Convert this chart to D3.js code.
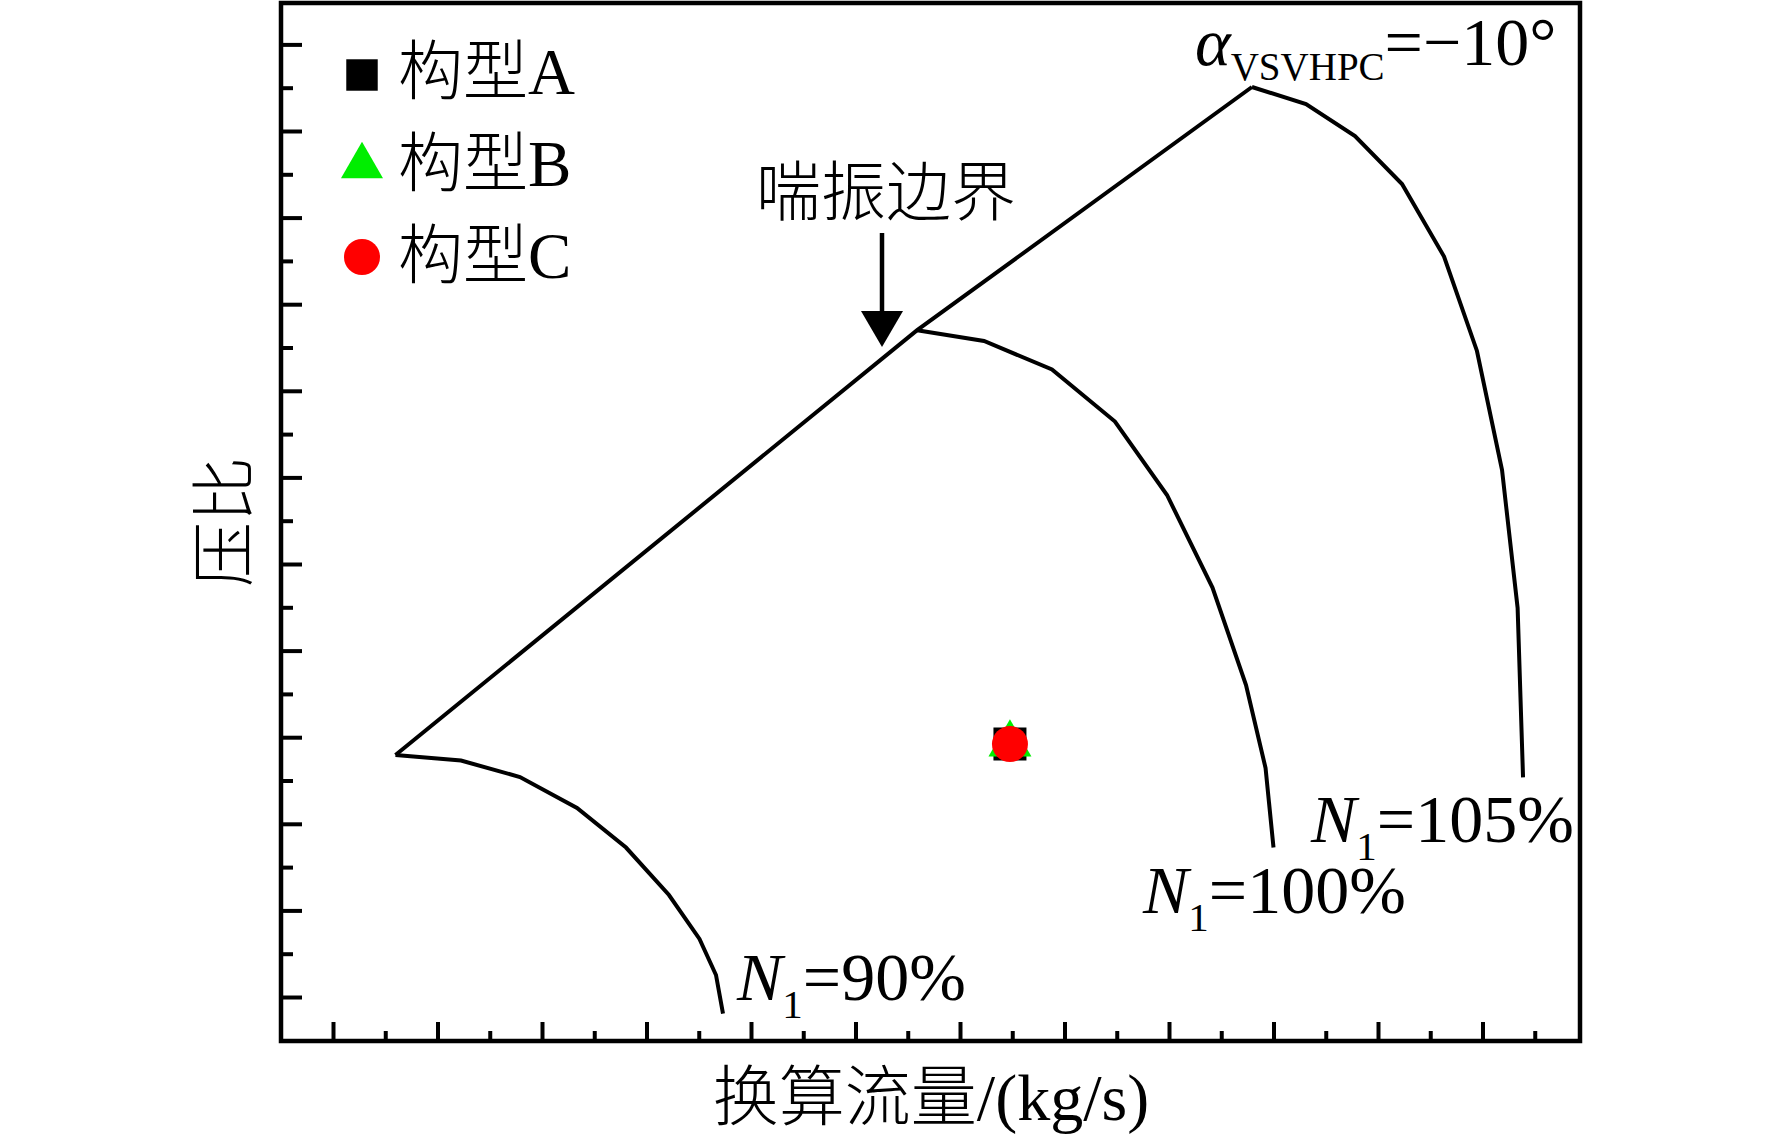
<!DOCTYPE html>
<html>
<head>
<meta charset="utf-8">
<script src="https://cdn.jsdelivr.net/npm/d3@7"></script>
<style>
  html, body { margin: 0; padding: 0; background: #fff; }
  svg { display: block; }
  text { font-family: "Liberation Serif", "Noto Sans CJK SC", serif; fill: #000; }
  .cjk { font-weight: 300; }
</style>
</head>
<body>
<svg id="chart" width="1772" height="1142"></svg>
<script>
// ---------- data (arbitrary axis units; axis has no tick labels) ----------
const xMajorTicks = [0, 1, 2, 3, 4, 5, 6, 7, 8, 9, 10, 11];
const xMinorTicks = [0.5, 1.5, 2.5, 3.5, 4.5, 5.5, 6.5, 7.5, 8.5, 9.5, 10.5, 11.5];
const yMajorTicks = [0, 1, 2, 3, 4, 5, 6, 7, 8, 9, 10, 11];
const yMinorTicks = [0.5, 1.5, 2.5, 3.5, 4.5, 5.5, 6.5, 7.5, 8.5, 9.5, 10.5];

// speed lines: corrected flow (x) vs pressure ratio (y)
const n90Flow  = [0.598, 1.225, 1.789, 2.335, 2.804, 3.215, 3.507, 3.665, 3.732];
const n90PR    = [2.794, 2.731, 2.540, 2.182, 1.726, 1.178, 0.670, 0.254, -0.192];
const n100Flow = [5.590, 6.230, 6.880, 7.483, 7.981, 8.416, 8.737, 8.924, 9.000];
const n100PR   = [7.700, 7.575, 7.246, 6.645, 5.797, 4.727, 3.603, 2.644, 1.726];
const n105Flow = [8.794, 9.311, 9.780, 10.230, 10.632, 10.947, 11.187, 11.336, 11.388];
const n105PR   = [10.508, 10.312, 9.942, 9.388, 8.551, 7.460, 6.085, 4.492, 2.536];
// surge line through the peak of each speed line
const surgeFlow = [0.598, 5.590, 8.794];
const surgePR   = [2.794, 7.700, 10.508];

// operating points of the three configurations (coincident)
const configNames = ["构型A", "构型B", "构型C"];
const configFlow  = [6.478, 6.478, 6.478];
const configPR    = [2.921, 2.921, 2.921];

const speedLabels = ["=90%", "=100%", "=105%"];

// ---------- layout ----------
const frame = { left: 281, right: 1580, top: 3, bottom: 1041 };
const svg = d3.select("#chart");

const x = d3.scaleLinear().domain([-0.4976, 11.933]).range([frame.left, frame.right]);
const y = d3.scaleLinear().domain([-0.508, 11.478]).range([frame.bottom, frame.top]);

const zip = (a, b) => a.map((v, i) => [v, b[i]]);
const line = d3.line().x(d => x(d[0])).y(d => y(d[1]));

// ---------- axes (inward ticks, no labels) ----------
function styleAxis(g) {
  g.select(".domain").remove();
  g.selectAll(".tick line").attr("stroke", "#000").attr("stroke-width", 4);
  g.selectAll(".tick text").remove();
}
svg.append("g").attr("transform", `translate(0,${frame.bottom})`)
  .call(d3.axisBottom(x).tickValues(xMajorTicks).tickSize(-19).tickFormat(() => ""))
  .call(styleAxis);
svg.append("g").attr("transform", `translate(0,${frame.bottom})`)
  .call(d3.axisBottom(x).tickValues(xMinorTicks).tickSize(-10).tickFormat(() => ""))
  .call(styleAxis);
svg.append("g").attr("transform", `translate(${frame.left},0)`)
  .call(d3.axisLeft(y).tickValues(yMajorTicks).tickSize(-21).tickFormat(() => ""))
  .call(styleAxis);
svg.append("g").attr("transform", `translate(${frame.left},0)`)
  .call(d3.axisLeft(y).tickValues(yMinorTicks).tickSize(-12).tickFormat(() => ""))
  .call(styleAxis);

// frame
svg.append("rect")
  .attr("x", frame.left).attr("y", frame.top)
  .attr("width", frame.right - frame.left).attr("height", frame.bottom - frame.top)
  .attr("fill", "none").attr("stroke", "#000").attr("stroke-width", 4.5);

// ---------- lines ----------
const curves = [zip(surgeFlow, surgePR), zip(n90Flow, n90PR), zip(n100Flow, n100PR), zip(n105Flow, n105PR)];
svg.append("g").selectAll("path").data(curves).join("path")
  .attr("d", line)
  .attr("fill", "none").attr("stroke", "#000").attr("stroke-width", 4)
  .attr("stroke-linejoin", "miter");

// ---------- operating points ----------
const symTypes = [d3.symbolSquare, d3.symbolTriangle, d3.symbolCircle];
const symSizes = [1089, 800, 1018];
const symColors = ["#000000", "#00ee00", "#ff0000"];
svg.append("g").selectAll("path").data(configNames).join("path")
  .attr("transform", (d, i) => `translate(${x(configFlow[i])},${y(configPR[i])})`)
  .attr("d", (d, i) => d3.symbol(symTypes[i], symSizes[i])())
  .attr("fill", (d, i) => symColors[i]);

// ---------- legend ----------
const legendSizes = [990, 764, 1018];
const legendY = [75, 166, 257];
const legendBase = [94, 186, 278];
const lg = svg.append("g");
configNames.forEach((name, i) => {
  lg.append("path")
    .attr("transform", `translate(362,${legendY[i]})`)
    .attr("d", d3.symbol(symTypes[i], legendSizes[i])())
    .attr("fill", symColors[i]);
  lg.append("text").attr("class", "cjk").attr("x", 398).attr("y", legendBase[i])
    .attr("font-size", 65).text(name);
});

// ---------- annotations ----------
function speedLabel(px, py, txt) {
  const t = svg.append("text").attr("x", px).attr("y", py).attr("font-size", 68);
  t.append("tspan").attr("font-style", "italic").text("N");
  t.append("tspan").attr("font-size", 41).attr("dy", 18).text("1");
  t.append("tspan").attr("dy", -18).text(txt);
}
speedLabel(737, 1000, speedLabels[0]);
speedLabel(1143, 913, speedLabels[1]);
speedLabel(1311, 842, speedLabels[2]);

const al = svg.append("text").attr("x", 1195).attr("y", 65).attr("font-size", 68);
al.append("tspan").attr("font-style", "italic").text("α");
al.append("tspan").attr("font-size", 39).attr("dy", 15).text("VSVHPC");
al.append("tspan").attr("dy", -15).text("=−10°");

svg.append("text").attr("class", "cjk").attr("x", 886).attr("y", 215).attr("text-anchor", "middle")
  .attr("font-size", 65).text("喘振边界");

// arrow
svg.append("line").attr("x1", 882).attr("y1", 233).attr("x2", 882).attr("y2", 315)
  .attr("stroke", "#000").attr("stroke-width", 4.5);
svg.append("path").attr("d", "M861,311 L903,311 L882,347 Z").attr("fill", "#000");

// axis titles
svg.append("text").attr("class", "cjk").attr("x", 931).attr("y", 1120).attr("text-anchor", "middle")
  .attr("font-size", 66).text("换算流量/(kg/s)");
svg.append("text").attr("class", "cjk").attr("transform", "translate(247,522) rotate(-90)")
  .attr("text-anchor", "middle").attr("font-size", 65).text("压比");
</script>
</body>
</html>
